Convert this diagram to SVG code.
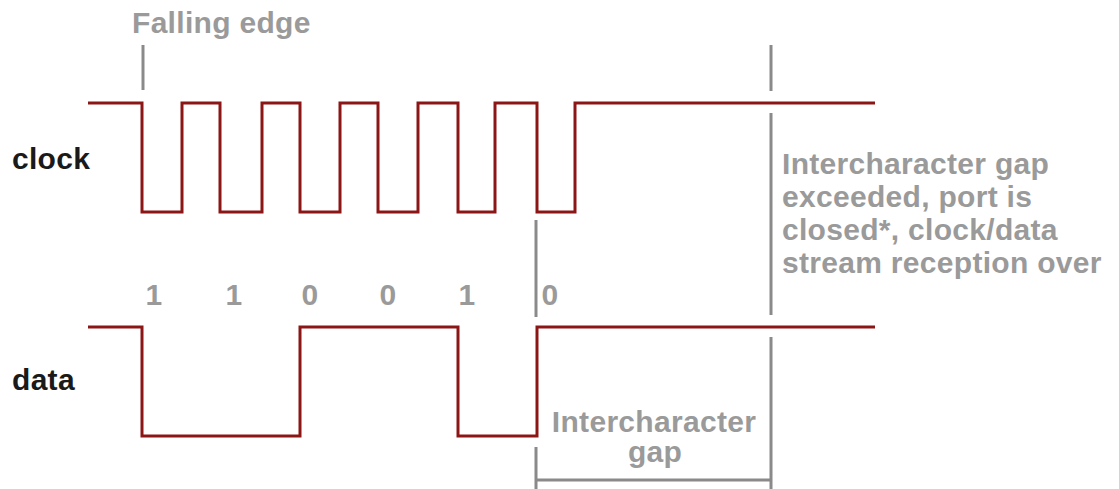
<svg xmlns="http://www.w3.org/2000/svg" width="1119" height="489" viewBox="0 0 1119 489">
  <style>
    .sig { fill: none; stroke: #8c1616; stroke-width: 3; stroke-linejoin: miter; }
    .guide { fill: none; stroke: #8a8a8a; stroke-width: 3; }
    .lbl { font-family: "Liberation Sans", Arial, sans-serif; font-weight: bold; font-size: 30px; letter-spacing: 0.3px; }
    .name { fill: #1a1a1a; }
    .note { fill: #9a9a9a; }
  </style>
  <rect width="1119" height="489" fill="#ffffff"/>

  <g id="clock">
    <text class="lbl name" x="12" y="169">clock</text>
    <path class="sig" d="M88,103 H142 V212 H182 V103 H220 V212 H262 V103 H300 V212 H340 V103 H378 V212 H418 V103 H458 V212 H495 V103 H537 V212 H575 V103 H875"/>
  </g>

  <g id="data">
    <text class="lbl name" x="12" y="390">data</text>
    <path class="sig" d="M88,327 H142 V436 H300 V327 H458 V436 H537 V327 H875"/>
  </g>

  <g id="bits">
    <text class="lbl note" x="154" y="305" text-anchor="middle">1</text>
    <text class="lbl note" x="234" y="305" text-anchor="middle">1</text>
    <text class="lbl note" x="310" y="305" text-anchor="middle">0</text>
    <text class="lbl note" x="388" y="305" text-anchor="middle">0</text>
    <text class="lbl note" x="467" y="305" text-anchor="middle">1</text>
    <text class="lbl note" x="550" y="305" text-anchor="middle">0</text>
  </g>

  <g id="falling-edge">
    <text class="lbl note" x="132" y="33">Falling edge</text>
  </g>

  <g id="gap-exceeded">
    <text class="lbl note" x="782" y="174">Intercharacter gap</text>
    <text class="lbl note" x="782" y="207">exceeded, port is</text>
    <text class="lbl note" x="782" y="240">closed*, clock/data</text>
    <text class="lbl note" x="782" y="273">stream reception over</text>
  </g>

  <g id="gap-label">
    <text class="lbl note" x="654" y="432" text-anchor="middle">Intercharacter</text>
    <text class="lbl note" x="655" y="462" text-anchor="middle">gap</text>
  </g>

  <g id="connectors">
    <path class="guide" d="M143,45 V90"/>
    <path class="guide" d="M536,220 V317"/>
    <path class="guide" d="M536,447 V489 M536,480 H771"/>
    <path class="guide" d="M771,45 V91 M771,113 V315 M771,337 V489"/>
  </g>
</svg>
